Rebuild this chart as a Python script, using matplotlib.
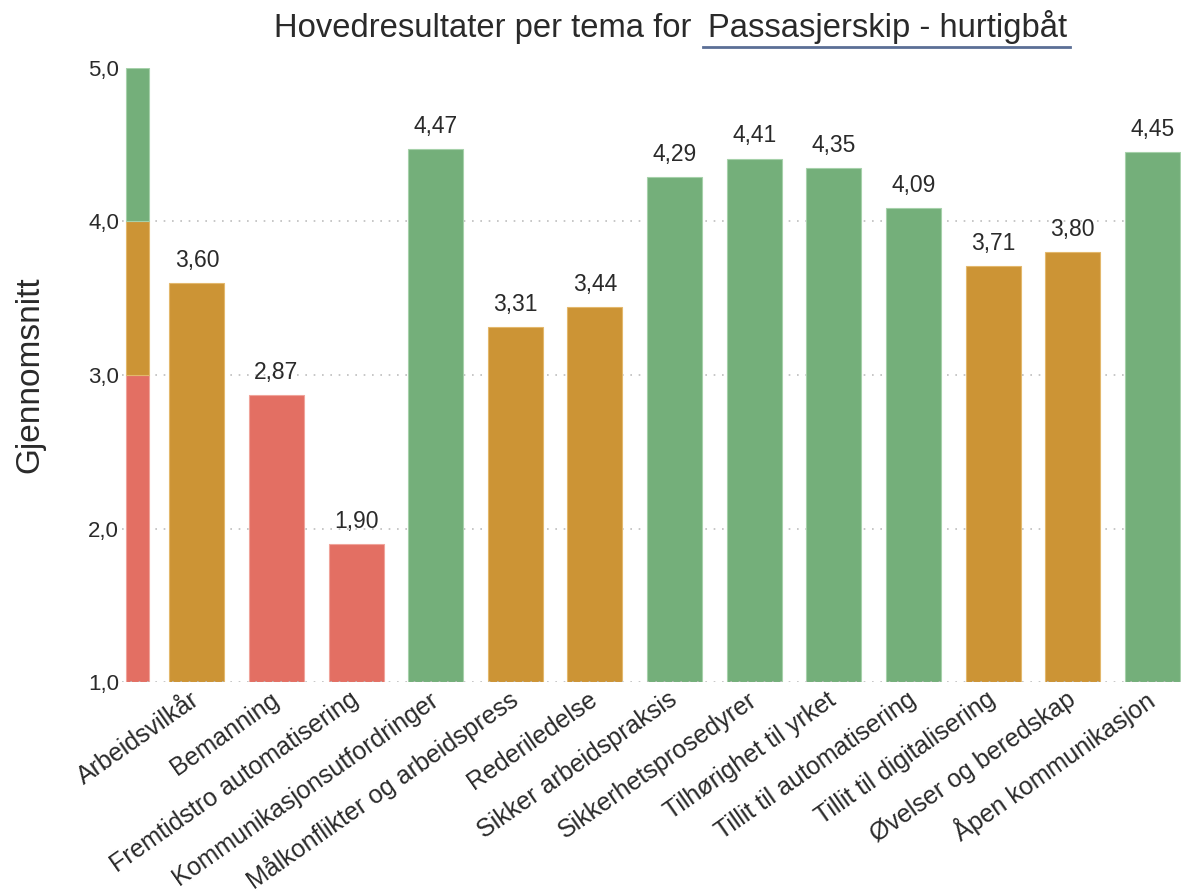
import matplotlib
matplotlib.use("Agg")
import matplotlib.pyplot as plt
from matplotlib.lines import Line2D

plt.rcParams["font.family"] = ["Liberation Sans", "DejaVu Sans"]

# Data
categories = [
    "Arbeidsvilkår", "Bemanning", "Fremtidstro automatisering",
    "Kommunikasjonsutfordringer", "Målkonflikter og arbeidspress",
    "Rederiledelse", "Sikker arbeidspraksis", "Sikkerhetsprosedyrer",
    "Tilhørighet til yrket", "Tillit til automatisering",
    "Tillit til digitalisering", "Øvelser og beredskap", "Åpen kommunikasjon",
]
values = [3.60, 2.87, 1.90, 4.47, 3.31, 3.44, 4.29, 4.41, 4.35, 4.09, 3.71, 3.80, 4.45]

# Score bands shown in the reference column on the left: (low, high)
band_limits = [(1.0, 3.0), (3.0, 4.0), (4.0, 5.0)]
yticks = [1.0, 2.0, 3.0, 4.0, 5.0]

title_main = "Hovedresultater per tema for"
title_group = "Passasjerskip - hurtigbåt"
ylabel = "Gjennomsnitt"

RED = "#e36f63"
ORANGE = "#cc9435"
GREEN = "#74af7a"
band_colors = [RED, ORANGE, GREEN]
edge_colors = {RED: "#f0a49b", ORANGE: "#e3b86c", GREEN: "#a6d1aa"}
TEXT = "#2a2a2a"


def colour_for(v):
    for (lo, hi), c in zip(band_limits, band_colors):
        if lo <= v < hi:
            return c
    return GREEN


W, H = 1181, 896
fig = plt.figure(figsize=(W / 100, H / 100), dpi=100)
ax_left, ax_right, ax_bot, ax_top = 122 / W, 1.0, 1 - 682 / H, 1 - 68 / H
ax = fig.add_axes([ax_left, ax_bot, ax_right - ax_left, ax_top - ax_bot])

x = list(range(len(categories)))
bar_w = 0.69

# Reference band column
band_x = -0.75
for (lo, hi), c in zip(band_limits, band_colors):
    ax.bar(band_x, hi - lo, bottom=lo, width=0.29, color=c,
           edgecolor=edge_colors[c], linewidth=0.8, zorder=2)

# Theme bars
cols = [colour_for(v) for v in values]
ax.bar(x, [v - 1.0 for v in values], bottom=1.0, width=bar_w, color=cols,
       edgecolor=[edge_colors[c] for c in cols], linewidth=0.8, zorder=2)

for xi, v in zip(x, values):
    ax.annotate(f"{v:.2f}".replace(".", ","), (xi, v), xytext=(0, 8),
                textcoords="offset points", ha="center", va="bottom",
                fontsize=16.5, color=TEXT)

# Dotted grid
for yv in yticks[:-1]:
    ax.axhline(yv, color="#bdbdbd", linestyle=(0, (1, 4)), linewidth=1.2,
               zorder=3 if yv == 1.0 else 1)

ax.set_xlim(-0.94, 12.36)
ax.set_ylim(1.0, 5.0)
ax.set_yticks(yticks)
ax.set_yticklabels([f"{t:.1f}".replace(".", ",") for t in yticks],
                   fontsize=16, color=TEXT)
ax.set_xticks(x)
ax.set_xticklabels(categories, rotation=35, ha="right", va="center",
                   rotation_mode="anchor", fontsize=18, color=TEXT)
ax.tick_params(axis="y", length=0, pad=2)
ax.tick_params(axis="x", length=0, pad=11)
for s in ax.spines.values():
    s.set_visible(False)
ax.set_ylabel(ylabel, fontsize=24, color=TEXT)
ax.yaxis.set_label_coords((45 - 122) / 1059, 0.5)

# Title with underlined group name
fig.canvas.draw()
renderer = fig.canvas.get_renderer()
t1 = fig.text(274 / W, 1 - 37 / H, title_main, fontsize=23.6, color=TEXT,
              ha="left", va="baseline")
ext1 = t1.get_window_extent(renderer)
t2 = fig.text((ext1.x1 + 17) / W, 1 - 37 / H, title_group, fontsize=23.6,
              color=TEXT, ha="left", va="baseline")
ext2 = t2.get_window_extent(renderer)
fig.add_artist(Line2D([(ext2.x0 - 5) / W, (ext2.x1 + 2) / W],
                      [1 - 47 / H, 1 - 47 / H], color="#5b6f96", linewidth=2))

fig.savefig("out.png", dpi=100)
